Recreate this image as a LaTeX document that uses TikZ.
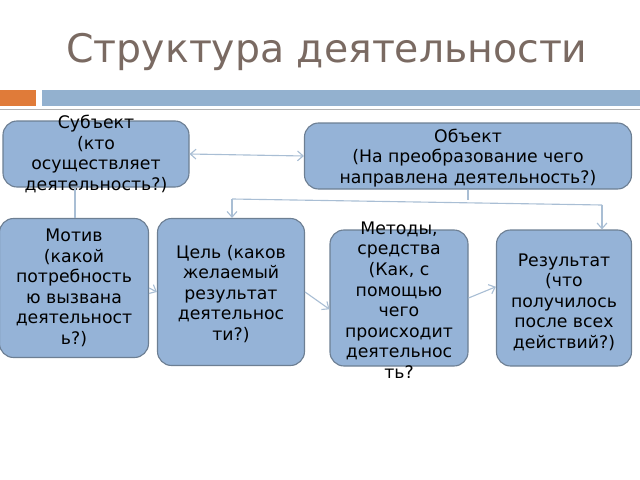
\documentclass[tikz,border=0pt]{standalone}
\usepackage{fontspec}
\setmainfont{DejaVu Sans}
\usetikzlibrary{arrows.meta}
\definecolor{boxfill}{HTML}{95B3D7}
\definecolor{boxline}{HTML}{6D7F93}
\definecolor{titlecol}{HTML}{7A6A62}
\definecolor{barblue}{HTML}{93B1CF}
\definecolor{barorange}{HTML}{E07B39}
\definecolor{linkcol}{HTML}{A9BED4}
\begin{document}
\begin{tikzpicture}[x=0.025cm,y=-0.025cm,
    block/.style={draw=boxline,fill=boxfill,rounded corners=10pt,line width=0.8pt},
    label/.style={align=center,font=\fontsize{12.3}{14.6}\selectfont},
    link/.style={draw=linkcol,line width=0.8pt,-{Straight Barb[length=4pt,width=7pt]}}]
    \useasboundingbox (0,0) rectangle (640,480);
    \node[text=titlecol,font=\fontsize{28}{32}\selectfont] (title) at (327,52) {Структура деятельности};
    \fill[barorange] (0,90) rectangle (36,106);
    \fill[barblue] (42,90) rectangle (640,106);
    \draw[gray!60,line width=0.6pt] (0,109) -- (640,109);

    % boxes
    \node[block,minimum width=186*0.025cm,minimum height=66*0.025cm] (subj) at (96,154) {};
    \node[block,minimum width=327*0.025cm,minimum height=66*0.025cm] (obj) at (468,156) {};
    \node[block,minimum width=149*0.025cm,minimum height=139*0.025cm] (motiv) at (74,288) {};
    \node[block,minimum width=147*0.025cm,minimum height=147*0.025cm] (goal) at (231,292) {};
    \node[block,minimum width=138*0.025cm,minimum height=136*0.025cm] (means) at (399,298) {};
    \node[block,minimum width=135*0.025cm,minimum height=136*0.025cm] (result) at (564,298) {};

    % texts
    \node[label] (subjt) at (96,154) {Субъект\\(кто\\осуществляет\\деятельность?)};
    \node[label] (objt) at (468,158) {Объект\\(На преобразование чего\\направлена деятельность?)};
    \node[label] (motivt) at (74,288) {Мотив\\(какой\\потребность\\ю вызвана\\деятельност\\ь?)};
    \node[label] (goalt) at (231,294) {Цель (каков\\желаемый\\результат\\деятельнос\\ти?)};
    \node[label] (meanst) at (399,300) {Методы,\\средства\\(Как, с\\помощью\\чего\\происходит\\деятельнос\\ть?};
    \node[label] (resultt) at (564,302) {Результат\\(что\\получилось\\после всех\\действий?)};

    % connectors
    \coordinate (fork) at (468,200);
    \coordinate (forkl) at (232,199);
    \coordinate (forkr) at (602,205);
    \draw[link,{Straight Barb[length=4pt,width=7pt]}-{Straight Barb[length=4pt,width=7pt]}] (subj.east) -- (obj.west);
    \draw[draw=linkcol,line width=0.8pt] (subj.south -| 75,0) -- (motiv.north -| 75,0);
    \draw[draw=linkcol,line width=0.8pt] (obj.south) -- (fork);
    \draw[draw=linkcol,line width=0.8pt] (forkl) -- (forkr);
    \draw[link] (forkl) -- (forkl |- goal.north);
    \draw[link] (forkr) -- (forkr |- result.north);
    \draw[link] (motiv.east) -- (goal.west);
    \draw[link] (goal.east) -- ([yshift=-8pt]means.west);
    \draw[link] (means.east) -- ([yshift=8pt]result.west);
\end{tikzpicture}
\end{document}
